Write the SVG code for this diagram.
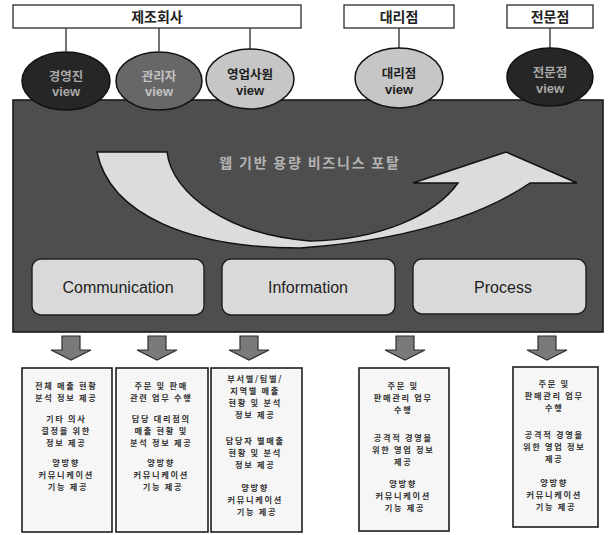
<svg xmlns="http://www.w3.org/2000/svg" width="609" height="535" viewBox="0 0 609 535">
  <style>
    .kr { font-family: "Noto Sans CJK KR", "Noto Sans", sans-serif; }
    .en { font-family: "Liberation Sans", Arial, sans-serif; }
    .org rect { fill: #ffffff; stroke: #2a2a2a; stroke-width: 1.3; }
    .org text { font-size: 14px; font-weight: 700; fill: #222; text-anchor: middle; }
    .view ellipse { stroke: #111; stroke-width: 1.5; }
    .view text { text-anchor: middle; }
    .view .name { font-size: 12.5px; font-weight: 700; }
    .view .v { font-size: 13px; font-weight: 700; }
    .dark ellipse { fill: #262626; }
    .mid ellipse { fill: #676767; }
    .light ellipse { fill: #c6c6c6; }
    .dark text { fill: #a8a8a8; }
    .mid text { fill: #c2c2c2; }
    .light text { fill: #1e1e1e; }
    .link { stroke: #2a2a2a; stroke-width: 1.3; fill: none; }
    .down { fill: #7a7a7a; stroke: #2e2e2e; stroke-width: 1.2; stroke-linejoin: miter; }
    .func rect { fill: #d9d9d9; stroke: #1e1e1e; stroke-width: 1.4; }
    .func text { font-size: 16px; fill: #1e1e1e; text-anchor: middle; }
    .svc rect { fill: #f6f6f6; stroke: #1e1e1e; stroke-width: 1.6; }
    .svc text { font-size: 8.2px; letter-spacing: 1.7px; font-weight: 700; fill: #333; text-anchor: middle; }
  </style>

  <!-- portal backdrop -->
  <g id="portal">
    <rect x="13" y="100" width="590" height="232" fill="#4e4e4e" stroke="#1a1a1a" stroke-width="1.6"/>
    <path d="M97,152 L167,152 C172,195 230,235 310,241 C380,240 435,215 458,183 L413,183 L506,152 L577,183 L530,183 C505,200 440,238 300,248 C190,248 110,215 97,152 Z"
          fill="#dcdcdc" stroke="#111" stroke-width="1.4" stroke-linejoin="miter"/>
    <text class="kr" x="310" y="168" font-size="14" letter-spacing="1.8" font-weight="700" fill="#b4b4b4" text-anchor="middle">웹 기반 용량 비즈니스 포탈</text>
  </g>

  <!-- organisations -->
  <g id="org-maker" class="org kr">
    <rect x="13" y="5" width="288" height="23"/>
    <text x="157" y="22">제조회사</text>
  </g>
  <g id="org-agency" class="org kr">
    <rect x="344" y="5" width="110" height="23"/>
    <text x="399" y="22">대리점</text>
  </g>
  <g id="org-shop" class="org kr">
    <rect x="507" y="5" width="86" height="23"/>
    <text x="550" y="22">전문점</text>
  </g>

  <!-- connectors -->
  <g id="connectors">
    <line class="link" x1="66" y1="28" x2="66" y2="51"/>
    <line class="link" x1="159" y1="28" x2="159" y2="51"/>
    <line class="link" x1="250" y1="28" x2="250" y2="49"/>
    <line class="link" x1="399" y1="28" x2="399" y2="49"/>
    <line class="link" x1="550" y1="28" x2="550" y2="49"/>
    <path class="down" d="M62,336 H80 V350 H91 L71,360 L51,350 H62 Z"/>
    <path class="down" d="M148,336 H166 V350 H177 L157,360 L137,350 H148 Z"/>
    <path class="down" d="M240,336 H258 V350 H269 L249,360 L229,350 H240 Z"/>
    <path class="down" d="M396,336 H414 V350 H425 L405,360 L385,350 H396 Z"/>
    <path class="down" d="M538,336 H556 V350 H567 L547,360 L527,350 H538 Z"/>
  </g>

  <!-- views -->
  <g id="view-exec" class="view dark">
    <ellipse cx="66" cy="81" rx="44" ry="29"/>
    <text class="kr name" x="66" y="81">경영진</text>
    <text class="en v" x="66" y="96">view</text>
  </g>
  <g id="view-manager" class="view mid">
    <ellipse cx="159" cy="81" rx="43" ry="29"/>
    <text class="kr name" x="159" y="81">관리자</text>
    <text class="en v" x="159" y="96">view</text>
  </g>
  <g id="view-sales" class="view light">
    <ellipse cx="250" cy="79" rx="44" ry="30"/>
    <text class="kr name" x="250" y="79">영업사원</text>
    <text class="en v" x="250" y="95">view</text>
  </g>
  <g id="view-agency" class="view light">
    <ellipse cx="399" cy="78" rx="44" ry="30"/>
    <text class="kr name" x="399" y="78">대리점</text>
    <text class="en v" x="399" y="94">view</text>
  </g>
  <g id="view-shop" class="view dark">
    <ellipse cx="550" cy="77" rx="43" ry="29"/>
    <text class="kr name" x="550" y="77">전문점</text>
    <text class="en v" x="550" y="93">view</text>
  </g>

  <!-- functions -->
  <g id="fn-communication" class="func en">
    <rect x="32" y="259" width="172" height="56" rx="9"/>
    <text x="118" y="293">Communication</text>
  </g>
  <g id="fn-information" class="func en">
    <rect x="222" y="259" width="173" height="56" rx="9"/>
    <text x="308" y="293">Information</text>
  </g>
  <g id="fn-process" class="func en">
    <rect x="413" y="259" width="173" height="55" rx="9"/>
    <text x="503" y="293">Process</text>
  </g>

  <!-- services: one multi-line text block per box -->
  <g id="svc-exec" class="svc kr">
    <rect x="22" y="368" width="90" height="164"/>
    <text>
      <tspan x="68" y="389">전체 매출 현황</tspan>
      <tspan x="68" y="401">분석 정보 제공</tspan>
      <tspan x="68" y="422">기타 의사</tspan>
      <tspan x="68" y="434">결정을 위한</tspan>
      <tspan x="68" y="446">정보 제공</tspan>
      <tspan x="68" y="466">양방향</tspan>
      <tspan x="68" y="478">커뮤니케이션</tspan>
      <tspan x="68" y="490">기능 제공</tspan>
    </text>
  </g>
  <g id="svc-manager" class="svc kr">
    <rect x="116" y="368" width="92" height="164"/>
    <text>
      <tspan x="163" y="389">주문 및 판매</tspan>
      <tspan x="163" y="401">관련 업무 수행</tspan>
      <tspan x="163" y="422">담당 대리점의</tspan>
      <tspan x="163" y="434">매출 현황 및</tspan>
      <tspan x="163" y="446">분석 정보 제공</tspan>
      <tspan x="163" y="466">양방향</tspan>
      <tspan x="163" y="478">커뮤니케이션</tspan>
      <tspan x="163" y="490">기능 제공</tspan>
    </text>
  </g>
  <g id="svc-sales" class="svc kr">
    <rect x="211" y="368" width="91" height="164"/>
    <text>
      <tspan x="257" y="382">부서별/팀별/</tspan>
      <tspan x="257" y="394">지역별 매출</tspan>
      <tspan x="257" y="406">현황 및 분석</tspan>
      <tspan x="257" y="418">정보 제공</tspan>
      <tspan x="257" y="444">담당자 별매출</tspan>
      <tspan x="257" y="456">현황 및 분석</tspan>
      <tspan x="257" y="468">정보 제공</tspan>
      <tspan x="257" y="491">양방향</tspan>
      <tspan x="257" y="503">커뮤니케이션</tspan>
      <tspan x="257" y="515">기능 제공</tspan>
    </text>
  </g>
  <g id="svc-agency" class="svc kr">
    <rect x="359" y="368" width="90" height="163"/>
    <text>
      <tspan x="405" y="389">주문 및</tspan>
      <tspan x="405" y="401">판매관리 업무</tspan>
      <tspan x="405" y="413">수행</tspan>
      <tspan x="405" y="441">공격적 경영을</tspan>
      <tspan x="405" y="453">위한 영업 정보</tspan>
      <tspan x="405" y="465">제공</tspan>
      <tspan x="405" y="487">양방향</tspan>
      <tspan x="405" y="499">커뮤니케이션</tspan>
      <tspan x="405" y="511">기능 제공</tspan>
    </text>
  </g>
  <g id="svc-shop" class="svc kr">
    <rect x="513" y="367" width="85" height="160"/>
    <text>
      <tspan x="556" y="387">주문 및</tspan>
      <tspan x="556" y="399">판매관리 업무</tspan>
      <tspan x="556" y="411">수행</tspan>
      <tspan x="556" y="438">공격적 경영을</tspan>
      <tspan x="556" y="450">위한 영업 정보</tspan>
      <tspan x="556" y="462">제공</tspan>
      <tspan x="556" y="486">양방향</tspan>
      <tspan x="556" y="498">커뮤니케이션</tspan>
      <tspan x="556" y="510">기능 제공</tspan>
    </text>
  </g>
</svg>
